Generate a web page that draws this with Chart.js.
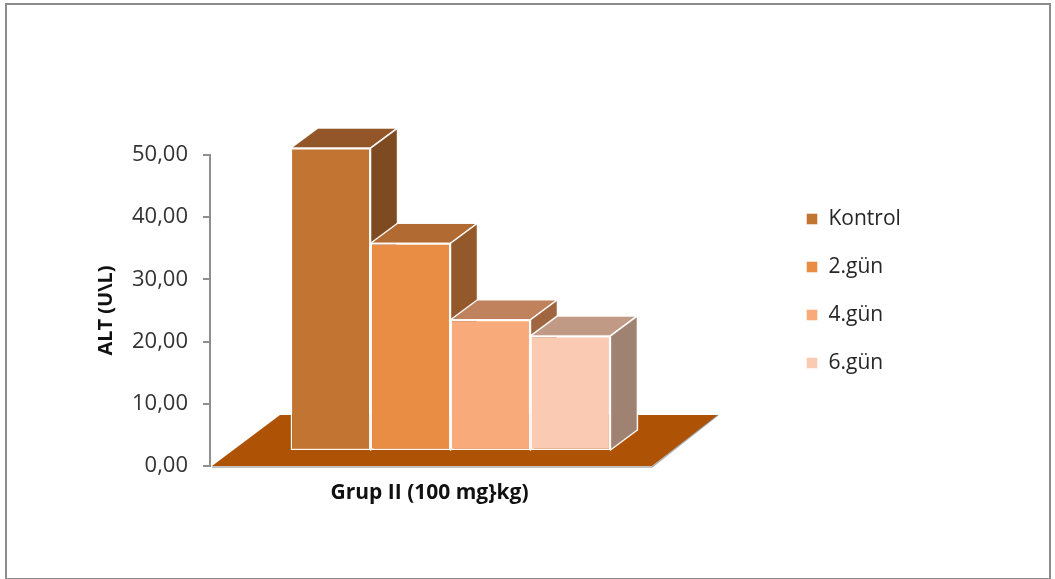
<!DOCTYPE html>
<html>
<head>
<meta charset="utf-8">
<script src="https://cdn.jsdelivr.net/npm/chart.js@4/dist/chart.umd.min.js"></script>
<style>
  html, body { margin: 0; padding: 0; background: #ffffff; }
  canvas { display: block; }
</style>
</head>
<body>
<canvas id="c" width="1055" height="579"></canvas>
<script>
// ---- data ----
const categories = ['Grup II (100 mg}kg)'];
const seriesNames = ['Kontrol', '2.gün', '4.gün', '6.gün'];
const kontrolValues = [48.7];
const gun2Values = [33.4];
const gun4Values = [21.1];
const gun6Values = [18.5];
const yTickValues = [0, 10, 20, 30, 40, 50];
const yTickLabels = ['0,00', '10,00', '20,00', '30,00', '40,00', '50,00'];
const yAxisTitle = 'ALT (U\\L)';

// ---- styles ----
const frontColors = ['#C27433', '#E98D45', '#F9AA7A', '#FACBB2'];
const topColors   = ['#935628', '#B06A32', '#C0825D', '#C19A86'];
const sideColors  = ['#7E4A21', '#93592A', '#A0663F', '#A08272'];
const FONT = "'Open Sans', 'Liberation Sans', sans-serif";
const LEGEND_SIZE = 21;
const LEGEND_PAD = 27;
const LEGEND_BOX = 12;

const seriesValues = [kontrolValues, gun2Values, gun4Values, gun6Values];

// legend placement: legend left edge should sit at x = 779
const mctx = document.createElement('canvas').getContext('2d');
mctx.font = LEGEND_SIZE + "px 'Open Sans', 'Liberation Sans', sans-serif";
const maxTextW = Math.max(...seriesNames.map(s => mctx.measureText(s).width));
const legendW = LEGEND_PAD + LEGEND_BOX + LEGEND_SIZE / 2 + maxTextW + 10;
const rightPad = Math.max(0, 1055 - 779 - legendW);

const depth = { dx: 27, dy: -20, lift: 15 };

const threeD = {
  id: 'threeD',
  beforeDraw(chart) {
    const ctx = chart.ctx;
    ctx.save();
    ctx.fillStyle = '#ffffff';
    ctx.fillRect(0, 0, chart.width, chart.height);
    ctx.strokeStyle = '#8c8c8c';
    ctx.lineWidth = 2;
    ctx.strokeRect(6, 4, chart.width - 11, chart.height - 4);
    ctx.restore();
  },
  beforeDatasetsDraw(chart) {
    const ctx = chart.ctx;
    const ca = chart.chartArea;
    const y0 = chart.scales.y.getPixelForValue(0);
    // floor
    ctx.save();
    ctx.fillStyle = '#AE5206';
    ctx.beginPath();
    ctx.moveTo(ca.left + 2, y0);
    ctx.lineTo(ca.left + 442, y0);
    ctx.lineTo(ca.left + 508, y0 - 51);
    ctx.lineTo(ca.left + 70, y0 - 51);
    ctx.closePath();
    ctx.fill();
    ctx.strokeStyle = 'rgba(120,120,120,0.6)';
    ctx.lineWidth = 1.5;
    ctx.beginPath();
    ctx.moveTo(ca.left + 2, y0 + 1);
    ctx.lineTo(ca.left + 442, y0 + 1);
    ctx.lineTo(ca.left + 508, y0 - 51);
    ctx.stroke();
    ctx.restore();

    ctx.save();
    ctx.translate(0, -depth.lift);
    ctx.lineWidth = 1.5;
    ctx.lineJoin = 'round';
    ctx.strokeStyle = 'rgba(255,255,255,0.95)';
    chart.data.datasets.forEach((ds, i) => {
      const meta = chart.getDatasetMeta(i);
      meta.data.forEach(bar => {
        const p = bar.getProps(['x', 'y', 'base', 'width'], true);
        const l = p.x - p.width / 2, r = p.x + p.width / 2;
        const t = p.y, b = p.base;
        // top face
        ctx.fillStyle = topColors[i];
        ctx.beginPath();
        ctx.moveTo(l, t);
        ctx.lineTo(l + depth.dx, t + depth.dy);
        ctx.lineTo(r + depth.dx, t + depth.dy);
        ctx.lineTo(r, t);
        ctx.closePath();
        ctx.fill();
        ctx.stroke();
        // side face
        ctx.fillStyle = sideColors[i];
        ctx.beginPath();
        ctx.moveTo(r, t);
        ctx.lineTo(r + depth.dx, t + depth.dy);
        ctx.lineTo(r + depth.dx, b + depth.dy);
        ctx.lineTo(r, b);
        ctx.closePath();
        ctx.fill();
        ctx.stroke();
      });
    });
  },
  afterDatasetsDraw(chart) {
    chart.ctx.restore();
  }
};

const datasets = seriesNames.map((name, i) => ({
  label: name,
  data: seriesValues[i],
  backgroundColor: frontColors[i],
  borderColor: 'rgba(255,255,255,0.95)',
  borderWidth: 1.5,
  borderSkipped: false,
  barPercentage: 1,
  categoryPercentage: 0.665,
  clip: false
}));

new Chart(document.getElementById('c'), {
  type: 'bar',
  data: { labels: categories, datasets },
  plugins: [threeD],
  options: {
    responsive: false,
    animation: false,
    events: [],
    layout: { padding: { left: 92, right: rightPad, top: 23, bottom: 20 } },
    plugins: {
      tooltip: { enabled: false },
      title: {
        display: true,
        text: ' ',
        fullSize: false,
        font: { size: 10, lineHeight: 1 },
        padding: { top: 122, bottom: 0 }
      },
      legend: {
        display: true,
        position: 'right',
        align: 'center',
        labels: {
          boxWidth: LEGEND_BOX,
          boxHeight: LEGEND_BOX,
          padding: LEGEND_PAD,
          color: '#262626',
          font: { family: FONT, size: LEGEND_SIZE }
        }
      }
    },
    scales: {
      x: {
        position: 'bottom',
        grid: { display: false, drawTicks: false },
        border: { display: false },
        ticks: {
          color: '#111',
          font: { family: FONT, size: 21, weight: 'bold' },
          padding: 14,
          labelOffset: -21
        },
        afterFit(scale) { scale.height = 93; }
      },
      y: {
        position: 'left',
        min: 0,
        max: 50,
        afterBuildTicks(scale) { scale.ticks = yTickValues.map(v => ({ value: v })); },
        grid: {
          drawOnChartArea: false,
          drawTicks: true,
          tickLength: 7,
          color: '#8f8f8f',
          lineWidth: 2
        },
        border: { display: true, color: '#8f8f8f', width: 2 },
        ticks: {
          color: '#333',
          padding: 15,
          font: { family: FONT, size: 22 },
          callback(value) {
            const idx = yTickValues.indexOf(value);
            return idx >= 0 ? yTickLabels[idx] : '';
          }
        },
        title: {
          display: true,
          text: yAxisTitle,
          color: '#111',
          font: { family: FONT, size: 20, weight: 'bold' },
          padding: { top: 2, bottom: 4 }
        },
        afterFit(scale) { scale.width = 118; }
      },
      y2: {
        position: 'right',
        display: true,
        grid: { display: false, drawTicks: false },
        border: { display: false },
        ticks: { display: false },
        afterFit(scale) { scale.width = 88; }
      }
    }
  }
});
</script>
</body>
</html>
